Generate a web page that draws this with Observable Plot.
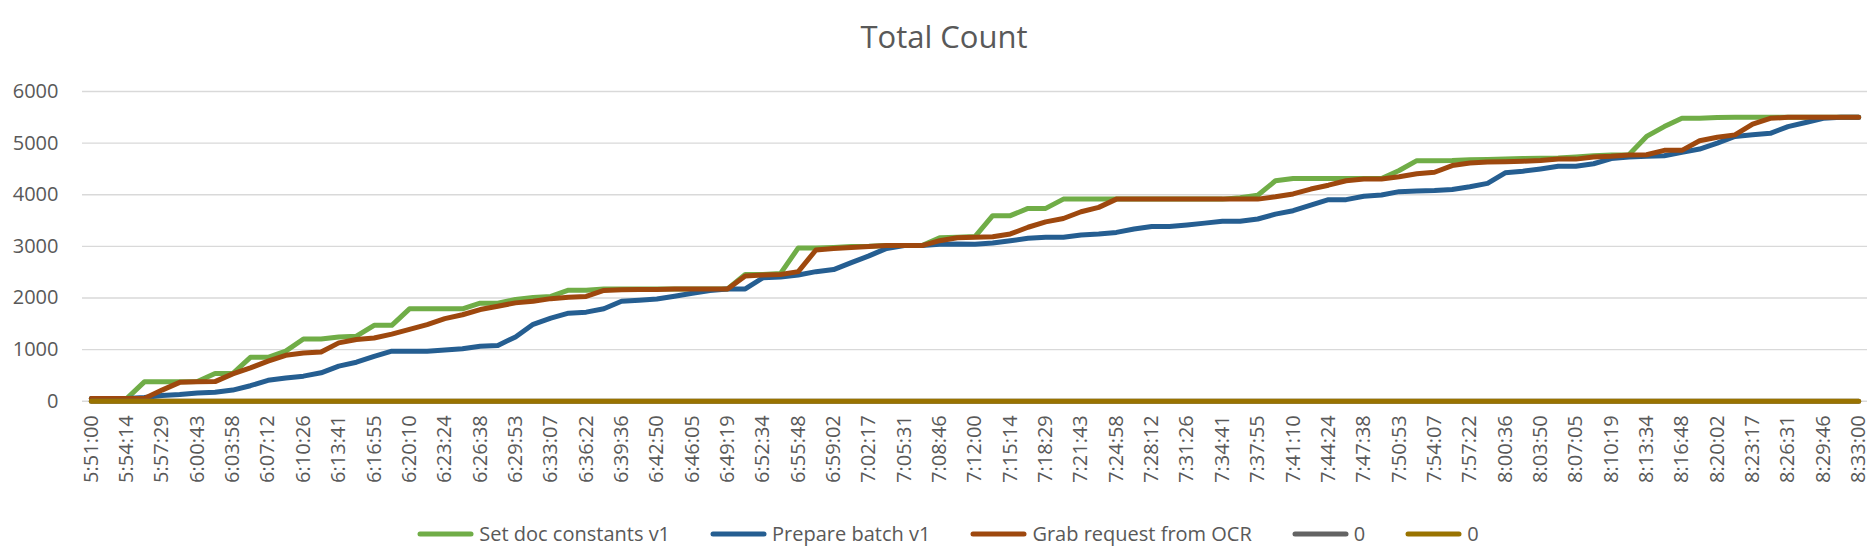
<!DOCTYPE html>
<html>
<head>
<meta charset="utf-8">
<script src="https://cdn.jsdelivr.net/npm/d3@7"></script>
<script src="https://cdn.jsdelivr.net/npm/@observablehq/plot@0.6"></script>
<style>
  html, body { margin: 0; padding: 0; background: #fff; }
  body { width: 1874px; height: 549px; overflow: hidden; font-family: "Open Sans", sans-serif; color: #595959; }
  #title { height: 60px; box-sizing: border-box; padding-top: 16px; padding-left: 14px; line-height: 40px; text-align: center; font-size: 31px; color: #595959; }
  #legend { height: 49px; box-sizing: border-box; padding-top: 18px; display: flex; justify-content: center; align-items: center; gap: 40px; font-size: 20px; color: #595959; padding-left: 22px; }
  .item { display: flex; align-items: center; gap: 5px; line-height: 24px; }
</style>
</head>
<body>
<div id="title">Total Count</div>
<div id="chart"></div>
<div id="legend"></div>
<script>
const tickLabels = ["5:51:00","5:54:14","5:57:29","6:00:43","6:03:58","6:07:12","6:10:26","6:13:41","6:16:55","6:20:10","6:23:24","6:26:38","6:29:53","6:33:07","6:36:22","6:39:36","6:42:50","6:46:05","6:49:19","6:52:34","6:55:48","6:59:02","7:02:17","7:05:31","7:08:46","7:12:00","7:15:14","7:18:29","7:21:43","7:24:58","7:28:12","7:31:26","7:34:41","7:37:55","7:41:10","7:44:24","7:47:38","7:50:53","7:54:07","7:57:22","8:00:36","8:03:50","8:07:05","8:10:19","8:13:34","8:16:48","8:20:02","8:23:17","8:26:31","8:29:46","8:33:00"];

const seriesNames = ["Set doc constants v1", "Prepare batch v1", "Grab request from OCR", "0", "0"];
const seriesColors = ["#70AD47", "#255E91", "#9E480E", "#636363", "#997300"];

const setDocConstants = [50,50,50,375,375,375,380,535,535,850,850,970,1205,1205,1245,1260,1470,1470,1790,1790,1790,1790,1900,1900,1970,2010,2030,2150,2150,2175,2175,2175,2175,2175,2175,2175,2175,2455,2455,2475,2970,2970,2980,2995,3000,3015,3015,3015,3165,3175,3190,3595,3595,3735,3735,3915,3915,3915,3915,3915,3915,3915,3915,3915,3915,3940,3990,4270,4315,4315,4315,4315,4315,4315,4470,4660,4660,4665,4680,4685,4690,4700,4705,4710,4730,4755,4770,4775,5130,5320,5480,5480,5495,5500,5500,5500,5500,5500,5500,5500,5500];

const prepareBatch = [50,50,50,70,110,130,160,175,215,300,405,450,485,550,680,755,870,970,970,970,990,1015,1065,1080,1245,1490,1610,1705,1725,1790,1935,1955,1980,2033,2090,2145,2175,2175,2390,2405,2445,2510,2550,2685,2815,2960,3015,3015,3040,3045,3040,3065,3110,3155,3175,3175,3220,3240,3270,3335,3385,3385,3415,3450,3485,3485,3530,3625,3690,3800,3905,3905,3970,3995,4060,4070,4080,4100,4155,4220,4425,4455,4500,4550,4550,4600,4700,4730,4745,4755,4820,4885,5000,5130,5160,5190,5320,5400,5480,5500,5500];

const grabRequest = [50,50,50,50,215,365,375,380,530,645,775,890,935,955,1130,1195,1225,1300,1390,1485,1600,1675,1775,1840,1905,1935,1987,2013,2030,2145,2160,2165,2165,2175,2175,2175,2175,2425,2445,2455,2510,2930,2960,2980,2995,3015,3015,3015,3110,3165,3175,3185,3240,3370,3475,3540,3670,3755,3915,3915,3915,3915,3915,3915,3915,3915,3915,3960,4015,4110,4185,4270,4305,4305,4350,4405,4435,4565,4615,4635,4640,4650,4665,4690,4690,4730,4745,4770,4775,4860,4860,5045,5115,5160,5370,5480,5500,5500,5500,5500,5500];

const zeroSeriesA = [0,0,0,0,0,0,0,0,0,0,0,0,0,0,0,0,0,0,0,0,0,0,0,0,0,0,0,0,0,0,0,0,0,0,0,0,0,0,0,0,0,0,0,0,0,0,0,0,0,0,0,0,0,0,0,0,0,0,0,0,0,0,0,0,0,0,0,0,0,0,0,0,0,0,0,0,0,0,0,0,0,0,0,0,0,0,0,0,0,0,0,0,0,0,0,0,0,0,0,0,0];
const zeroSeriesB = [0,0,0,0,0,0,0,0,0,0,0,0,0,0,0,0,0,0,0,0,0,0,0,0,0,0,0,0,0,0,0,0,0,0,0,0,0,0,0,0,0,0,0,0,0,0,0,0,0,0,0,0,0,0,0,0,0,0,0,0,0,0,0,0,0,0,0,0,0,0,0,0,0,0,0,0,0,0,0,0,0,0,0,0,0,0,0,0,0,0,0,0,0,0,0,0,0,0,0,0,0];

const yTicks = [0, 1000, 2000, 3000, 4000, 5000, 6000];

const allSeries = [setDocConstants, prepareBatch, grabRequest, zeroSeriesA, zeroSeriesB];
const rows = allSeries.map((vals, s) => vals.map((v, i) => ({i, value: v, s})));
const indices = setDocConstants.map((_, i) => i);
const labelledIdx = indices.filter(i => i % 2 === 0);

const chart = Plot.plot({
  width: 1874,
  height: 440,
  marginLeft: 82,
  marginRight: 7,
  marginTop: 31,
  marginBottom: 99.3,
  style: { fontFamily: "Open Sans, sans-serif", fontSize: "20px", color: "#595959", background: "#fff" },
  x: { type: "point", domain: indices, padding: 0.5 },
  y: { domain: [0, 6000] },
  marks: [
    Plot.ruleY(yTicks, { stroke: "#d9d9d9", strokeWidth: 1.4 }),
    Plot.axisY({ ticks: yTicks, tickFormat: d => String(d), tickSize: 0, tickPadding: 24, label: null, fontSize: 20, fill: "#595959" }),
    Plot.axisX({ ticks: labelledIdx, tickFormat: i => tickLabels[i / 2], tickRotate: -90, tickSize: 0, tickPadding: 14, label: null, fontSize: 20, fill: "#595959" }),
    ...rows.map((r, s) => Plot.line(r, {
      x: "i", y: "value",
      stroke: seriesColors[s], strokeWidth: 5,
      strokeLinejoin: "round", strokeLinecap: "round"
    }))
  ]
});
document.getElementById("chart").appendChild(chart);

const legend = document.getElementById("legend");
seriesNames.forEach((name, s) => {
  const item = document.createElement("div");
  item.className = "item";
  item.innerHTML = `<svg width="57" height="10"><line x1="3" y1="5" x2="54" y2="5" stroke="${seriesColors[s]}" stroke-width="5" stroke-linecap="round"/></svg><span>${name}</span>`;
  legend.appendChild(item);
});
</script>
</body>
</html>
